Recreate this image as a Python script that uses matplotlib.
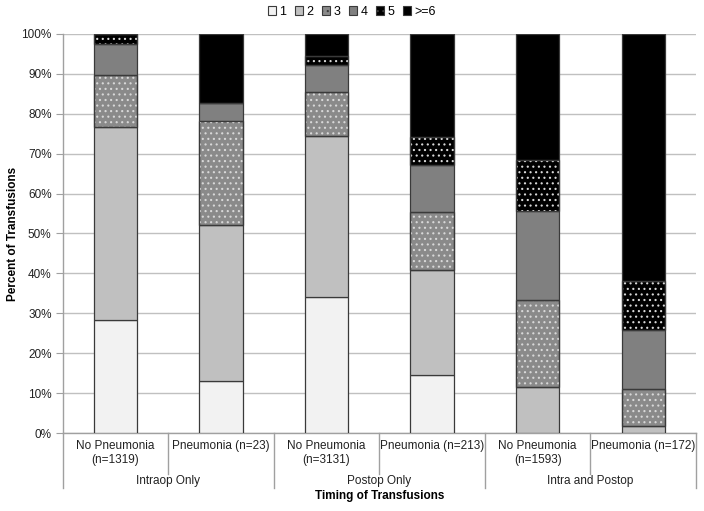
import numpy as np
import matplotlib
matplotlib.use("Agg")
import matplotlib.pyplot as plt
from matplotlib.patches import Patch
import matplotlib.transforms as mtransforms

plt.rcParams['font.family'] = ['Liberation Sans', 'DejaVu Sans']
plt.rcParams['hatch.linewidth'] = 0.8

# bar labels and groups
bar_labels = ["No Pneumonia\n(n=1319)", "Pneumonia (n=23)",
              "No Pneumonia\n(n=3131)", "Pneumonia (n=213)",
              "No Pneumonia\n(n=1593)", "Pneumonia (n=172)"]
groups = ["Intraop Only", "Postop Only", "Intra and Postop"]
series_names = ["1", "2", "3", "4", "5", ">=6"]

# percent of transfusions per number of units
s1 = [28.3, 13.0, 34.0, 14.6, 0.0, 0.0]
s2 = [48.3, 39.2, 40.5, 26.2, 11.6, 1.7]
s3 = [13.2, 26.1, 11.0, 14.6, 21.8, 9.3]
s4 = [7.7, 4.3, 6.8, 11.7, 22.2, 14.9]
s5 = [2.5, 0.0, 2.3, 7.1, 12.8, 12.2]
s6 = [0.0, 17.4, 5.4, 25.8, 31.6, 61.9]
series = [s1, s2, s3, s4, s5, s6]

colors = ["#f2f2f2", "#c0c0c0", "#8a8a8a", "#808080", "#000000", "#000000"]
hatches = [None, None, "...", None, "...", None]
edge = "#3a3a3a"

fig = plt.figure(figsize=(7.04, 5.11), dpi=100)
ax = fig.add_axes([62.7 / 704, 1 - 433 / 511, (696 - 62.7) / 704, (433 - 34) / 511])

x = np.arange(len(bar_labels))
width = 0.41
bottom = np.zeros(len(x))
for vals, c, h in zip(series, colors, hatches):
    vals = np.array(vals)
    ax.bar(x, vals, width, bottom=bottom, color=c, edgecolor=edge, linewidth=0.9, zorder=3)
    if h:
        ax.bar(x, vals, width, bottom=bottom, facecolor="none", edgecolor="#d8d8d8",
               hatch=h, linewidth=0, zorder=4)
        ax.bar(x, vals, width, bottom=bottom, facecolor="none", edgecolor=edge,
               linewidth=0.9, zorder=5)
    bottom += vals

ax.set_xlim(-0.5, len(x) - 0.5)
ax.set_ylim(0, 100)
ax.set_yticks(np.arange(0, 101, 10))
ax.set_yticklabels([f"{v}%" for v in range(0, 101, 10)])
ax.yaxis.grid(True, color="#c0c0c0", linewidth=1.0, zorder=0)
ax.set_axisbelow(True)
for s in ["top", "right"]:
    ax.spines[s].set_visible(False)
for s in ["left", "bottom"]:
    ax.spines[s].set_color("#a0a0a0")
    ax.spines[s].set_linewidth(1.0)
ax.tick_params(axis="y", length=5, color="#a0a0a0", labelsize=8.5, labelcolor="#222222", pad=3)
ax.set_xticks(x)
ax.set_xticklabels(bar_labels, fontsize=8.5, color="#222222", linespacing=1.25)
ax.tick_params(axis="x", length=0, pad=5)
ax.set_ylabel("Percent of Transfusions", fontsize=8.5, fontweight="bold", labelpad=2)

# two-level category axis separators
trans = mtransforms.blended_transform_factory(ax.transData, ax.transAxes)
for b in np.arange(-0.5, len(x), 1.0):
    major = (b + 0.5) % 2 == 0
    y_end = -0.138 if major else -0.103
    ax.plot([b, b], [0, y_end], color="#a0a0a0", linewidth=1.0, transform=trans, clip_on=False)
for i, g in enumerate(groups):
    ax.text(2 * i + 0.5, -0.12, g, transform=trans, ha="center", va="center",
            fontsize=8.5, color="#222222")
ax.text(0.5, -0.157, "Timing of Transfusions", transform=ax.transAxes, ha="center",
        va="center", fontsize=8.5, fontweight="bold")

handles = [Patch(facecolor=c, edgecolor=edge, hatch=h, linewidth=0.8)
           for c, h in zip(colors, hatches)]
fig.legend(handles, series_names, loc="center", bbox_to_anchor=(0.5, 1 - 12 / 511),
           ncol=6, frameon=False, fontsize=9, handlelength=0.65, handleheight=0.65,
           handletextpad=0.25, columnspacing=0.7)

fig.savefig("out.png", dpi=100)
